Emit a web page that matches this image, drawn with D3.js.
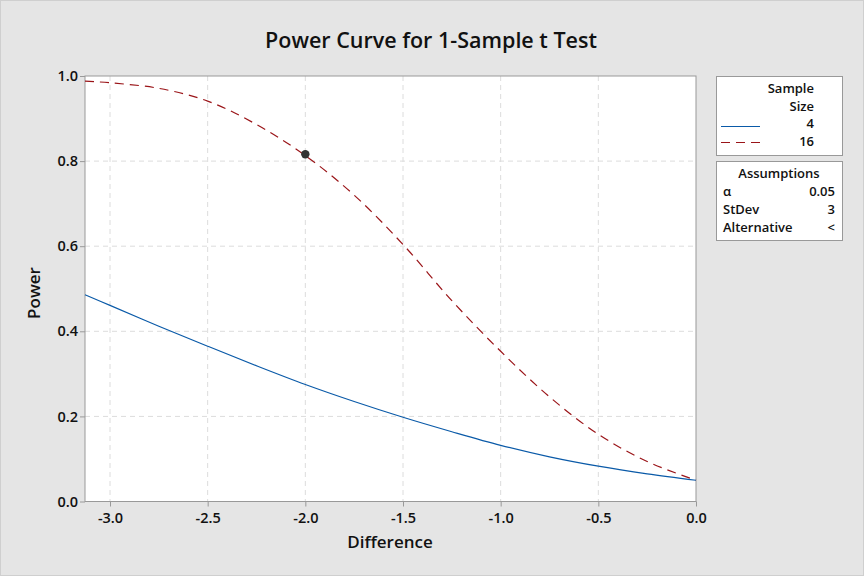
<!DOCTYPE html>
<html lang="en">
<head>
<meta charset="utf-8">
<title>Power Curve for 1-Sample t Test</title>
<style>
  body { margin: 0; background: #e5e5e5; }
  #chart { width: 864px; height: 576px; }
  text { font-family: "Open Sans", "Noto Sans", sans-serif; fill: #111; }
  .grid line { stroke: #dcdcdc; stroke-dasharray: 5,4; }
  .axis path, .axis line { stroke: #999; }
</style>
</head>
<body>
<div id="chart"></div>
<script src="https://d3js.org/d3.v7.min.js"></script>
<script>
  // values
  var differences = [-3.128, -3.0, -2.75, -2.5, -2.25, -2.0, -1.75, -1.5, -1.25, -1.0, -0.75, -0.5, -0.25, 0.0];
  var power4  = [0.486, 0.461, 0.412, 0.365, 0.319, 0.275, 0.235, 0.198, 0.164, 0.132, 0.105, 0.083, 0.065, 0.05];
  var power16 = [0.988, 0.984, 0.971, 0.941, 0.886, 0.813, 0.720, 0.604, 0.472, 0.353, 0.246, 0.158, 0.094, 0.05];
  var xTicks = [-3.0, -2.5, -2.0, -1.5, -1.0, -0.5, 0.0];
  var yTicks = [0.0, 0.2, 0.4, 0.6, 0.8, 1.0];
  var marked = { diff: -2.0, power: 0.816 };

(function(d3) {
  'use strict';

  var width = 864, height = 576;
  var plotLeft = 85, plotRight = 696, plotTop = 76, plotBottom = 501.5;
  var fmt = function(d) { return d3.format('.1f')(d).replace('−', '-'); };

  var svg = d3.select('#chart').append('svg')
    .attr('width', width).attr('height', height);

  svg.append('rect')
    .attr('x', 0.5).attr('y', 0.5)
    .attr('width', width - 1).attr('height', height - 1)
    .attr('fill', '#e5e5e5').attr('stroke', '#cfcfcf');

  var x = d3.scaleLinear().domain([differences[0], 0]).range([plotLeft, plotRight]);
  var y = d3.scaleLinear().domain([0, 1]).range([plotBottom, plotTop]);

  svg.append('rect')
    .attr('x', plotLeft).attr('y', plotTop)
    .attr('width', plotRight - plotLeft).attr('height', plotBottom - plotTop)
    .attr('fill', '#fff');

  // grid
  var grid = svg.append('g').attr('class', 'grid');
  grid.selectAll('.vx').data(xTicks.slice(0, -1)).enter().append('line')
    .attr('x1', function(d) { return x(d); }).attr('x2', function(d) { return x(d); })
    .attr('y1', plotTop).attr('y2', plotBottom);
  grid.selectAll('.hy').data(yTicks.slice(1, -1)).enter().append('line')
    .attr('y1', function(d) { return y(d); }).attr('y2', function(d) { return y(d); })
    .attr('x1', plotLeft).attr('x2', plotRight);

  var xAxis = svg.append('g').attr('class', 'axis')
    .attr('transform', 'translate(0,' + plotBottom + ')')
    .call(d3.axisBottom(x).tickValues(xTicks).tickFormat(fmt).tickSize(5).tickSizeOuter(0));
  xAxis.selectAll('text').attr('font-size', 14.5).attr('font-weight', 600).attr('dy', '0.9em');

  var yAxis = svg.append('g').attr('class', 'axis')
    .attr('transform', 'translate(' + plotLeft + ',0)')
    .call(d3.axisLeft(y).tickValues(yTicks).tickFormat(fmt).tickSize(5).tickSizeOuter(0));
  yAxis.selectAll('text').attr('font-size', 14.5).attr('font-weight', 600).attr('x', -7);
  xAxis.select('.domain').remove();
  yAxis.select('.domain').remove();

  // frame
  svg.append('rect')
    .attr('x', plotLeft).attr('y', plotTop)
    .attr('width', plotRight - plotLeft).attr('height', plotBottom - plotTop)
    .attr('fill', 'none').attr('stroke', '#999');

  var line = d3.line()
    .x(function(d) { return x(d[0]); })
    .y(function(d) { return y(d[1]); })
    .curve(d3.curveCatmullRom.alpha(0.5));

  svg.append('path')
    .datum(d3.zip(differences, power4))
    .attr('d', line).attr('fill', 'none')
    .attr('stroke', '#0a5aa8').attr('stroke-width', 1.2);

  svg.append('path')
    .datum(d3.zip(differences, power16))
    .attr('d', line).attr('fill', 'none')
    .attr('stroke', '#9a1418').attr('stroke-width', 1.2)
    .attr('stroke-dasharray', '9,6');

  svg.append('circle')
    .attr('cx', x(marked.diff)).attr('cy', y(marked.power))
    .attr('r', 4.2).attr('fill', '#333');

  // titles
  svg.append('text').attr('x', 431).attr('y', 48)
    .attr('text-anchor', 'middle').attr('font-size', 21.5).attr('font-weight', 600)
    .text('Power Curve for 1-Sample t Test');
  svg.append('text').attr('x', 390).attr('y', 548)
    .attr('text-anchor', 'middle').attr('font-size', 17).attr('font-weight', 600)
    .text('Difference');
  svg.append('text')
    .attr('transform', 'translate(40,293) rotate(-90)')
    .attr('text-anchor', 'middle').attr('font-size', 17).attr('font-weight', 600)
    .text('Power');

  // legend: sample size
  var leg = svg.append('g');
  leg.append('rect').attr('x', 716.5).attr('y', 76.5).attr('width', 126).attr('height', 79)
    .attr('fill', '#fff').attr('stroke', '#999');
  leg.append('text').attr('x', 814).attr('y', 93).attr('text-anchor', 'end')
    .attr('font-size', 13).attr('font-weight', 600).text('Sample');
  leg.append('text').attr('x', 814).attr('y', 111).attr('text-anchor', 'end')
    .attr('font-size', 13).attr('font-weight', 600).text('Size');
  var sizes = [{ label: '4', color: '#0a5aa8', dash: null }, { label: '16', color: '#9a1418', dash: '9,6' }];
  sizes.forEach(function(s, i) {
    var yy = 126.5 + i * 16;
    leg.append('line').attr('x1', 721).attr('x2', 760).attr('y1', yy).attr('y2', yy)
      .attr('stroke', s.color).attr('stroke-width', 1.2)
      .attr('stroke-dasharray', s.dash);
    leg.append('text').attr('x', 814).attr('y', 128 + i * 18).attr('text-anchor', 'end')
      .attr('font-size', 13).attr('font-weight', 600).text(s.label);
  });

  // legend: assumptions
  var asm = svg.append('g');
  asm.append('rect').attr('x', 716.5).attr('y', 161.5).attr('width', 126).attr('height', 79)
    .attr('fill', '#fff').attr('stroke', '#999');
  asm.append('text').attr('x', 779).attr('y', 178).attr('text-anchor', 'middle')
    .attr('font-size', 13).attr('font-weight', 600).text('Assumptions');
  var assumptions = [['α', '0.05'], ['StDev', '3'], ['Alternative', '<']];
  assumptions.forEach(function(a, i) {
    var yy = 196 + i * 18;
    asm.append('text').attr('x', 723).attr('y', yy)
      .attr('font-size', 13).attr('font-weight', 600).text(a[0]);
    asm.append('text').attr('x', 835).attr('y', yy).attr('text-anchor', 'end')
      .attr('font-size', 13).attr('font-weight', 600).text(a[1]);
  });
})(window.d3);
</script>
</body>
</html>
